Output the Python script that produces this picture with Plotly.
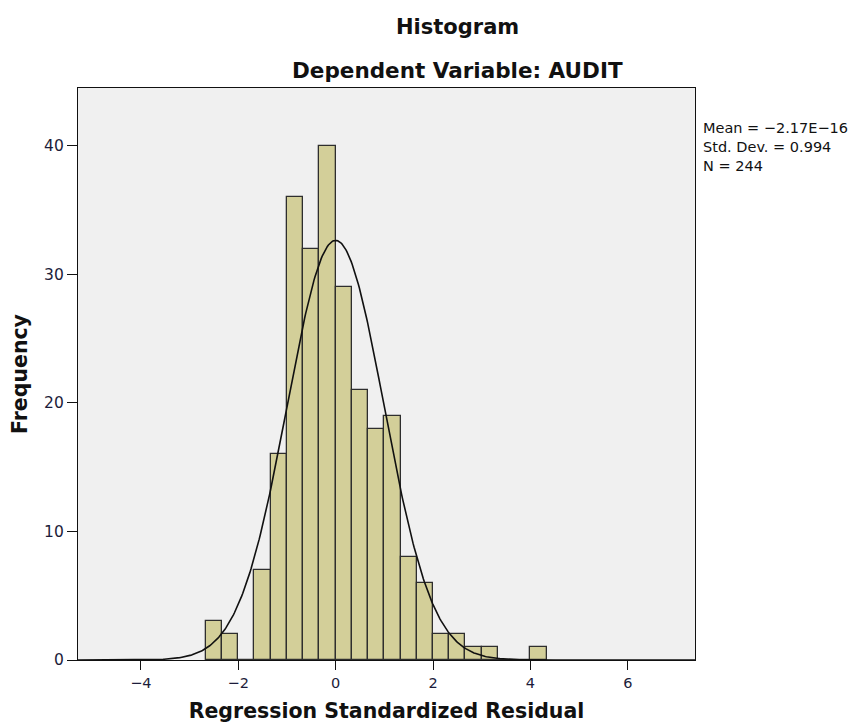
import numpy as np
import plotly.graph_objects as go

# Histogram of regression standardized residuals (bin width 1/3)
bin_width = 1 / 3
first_bin_left = -8 / 3
counts = [3, 2, 0, 7, 16, 36, 32, 40, 29, 21, 18, 19, 8, 6, 2, 2, 1, 1, 0, 0, 1]

# Summary statistics shown beside the plot
mean_value = -2.17e-16
std_dev = 0.994
n_obs = 244

x_ticks = [-4, -2, 0, 2, 4, 6]
y_ticks = [0, 10, 20, 30, 40]

bin_centers = [first_bin_left + (i + 0.5) * bin_width for i in range(len(counts))]

# Normal curve scaled to the histogram's counts
xs = np.linspace(-5.3, 7.4, 600)
ys = n_obs * bin_width * np.exp(-0.5 * ((xs - mean_value) / std_dev) ** 2) / (std_dev * np.sqrt(2 * np.pi))

FONT = "DejaVu Sans"

fig = go.Figure()
fig.add_trace(go.Bar(
    x=bin_centers, y=counts, width=bin_width,
    marker=dict(color="#d3cf99", line=dict(color="#2e2e2e", width=1.3)),
    showlegend=False, hoverinfo="x+y",
))
fig.add_trace(go.Scatter(
    x=xs, y=ys, mode="lines",
    line=dict(color="#111111", width=1.6),
    showlegend=False, hoverinfo="skip",
))

fig.update_layout(
    width=857, height=728,
    margin=dict(l=78, r=162, t=88, b=68),
    paper_bgcolor="white",
    plot_bgcolor="#f0f0f0",
    bargap=0,
    font=dict(family=FONT, color="#1c1c3a", size=14),
    xaxis=dict(
        range=[-5.29, 7.38], tickvals=x_ticks,
        ticktext=[("\u2212" + str(-v)) if v < 0 else str(v) for v in x_ticks],
        ticks="outside", ticklen=9, tickcolor="#111", tickwidth=1.2,
        showline=True, linecolor="#111", linewidth=1.2, mirror=True,
        showgrid=False, zeroline=False, automargin=False,
        tickfont=dict(size=14.5, family=FONT),
        title=dict(text="<b>Regression Standardized Residual</b>",
                   font=dict(size=20.5, family=FONT, color="#111"), standoff=14),
    ),
    yaxis=dict(
        range=[0, 44.5], tickvals=y_ticks,
        ticks="outside", ticklen=10, tickcolor="#111", tickwidth=1.2,
        showline=True, linecolor="#111", linewidth=1.2, mirror=True,
        showgrid=False, zeroline=False, automargin=False,
        tickfont=dict(size=15.5, family=FONT),
        title=dict(text="<b>Frequency</b>",
                   font=dict(size=20.5, family=FONT, color="#111"), standoff=10),
    ),
)

title_x = (457 - 78) / (695 - 78)
fig.add_annotation(
    text="<b>Histogram</b>", xref="paper", yref="paper",
    x=title_x, y=1 + (88 - 27) / 572, showarrow=False,
    font=dict(size=21, family=FONT, color="#111"), xanchor="center", yanchor="middle",
)
fig.add_annotation(
    text="<b>Dependent Variable: AUDIT</b>", xref="paper", yref="paper",
    x=title_x, y=1 + (88 - 71) / 572, showarrow=False,
    font=dict(size=21.5, family=FONT, color="#111"), xanchor="center", yanchor="middle",
)
stats_text = (
    "Mean = \u22122.17E\u221216<br>"
    f"Std. Dev. = {std_dev}<br>"
    f"N = {n_obs}"
)
fig.add_annotation(
    text=stats_text, xref="paper", yref="paper",
    x=1 + (701 - 695) / 617, y=1 - (118 - 88) / 572, showarrow=False,
    align="left", xanchor="left", yanchor="top",
    font=dict(size=14.5, family=FONT, color="#111"),
)

fig.write_html("out.html")
